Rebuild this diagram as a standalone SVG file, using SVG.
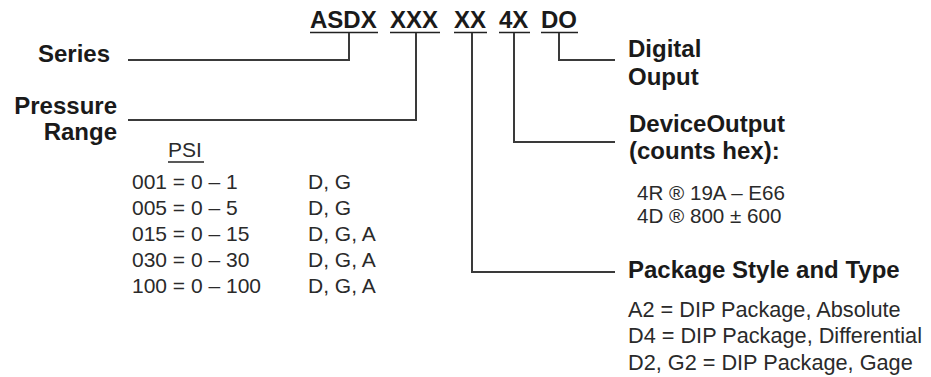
<svg xmlns="http://www.w3.org/2000/svg" width="931" height="377" viewBox="0 0 931 377">
<style>
.b{font-family:"Liberation Sans",Arial,sans-serif;font-weight:bold;font-size:24px;fill:#1a1a1a}
.h{font-family:"Liberation Sans",Arial,sans-serif;font-weight:bold;font-size:24px;fill:#1a1a1a}
.r{font-family:"Liberation Sans",Arial,sans-serif;font-size:21px;fill:#2a2a2a}
.p{font-size:21.7px}
.d{font-size:20.6px}
.u{stroke:#222;stroke-width:1.6;fill:none}
.c{stroke:#3a3a3a;stroke-width:2;fill:none}
</style>
<rect width="931" height="377" fill="#fff"/>
<g id="header">
<text class="h" x="310" y="28">ASDX</text>
<text class="h" x="390" y="28">XXX</text>
<text class="h" x="454" y="28">XX</text>
<text class="h" x="499" y="28">4X</text>
<text class="h" x="541" y="28">DO</text>
<path class="u" d="M310,32.5H378M390,32.5H440M454,32.5H487M499,32.5H530M541,32.5H578"/>
</g>
<g id="connectors">
<path class="c" d="M349,33V60H128"/>
<path class="c" d="M416,33V120H128"/>
<path class="c" d="M472,33V272H615"/>
<path class="c" d="M514,33V142H615"/>
<path class="c" d="M559,33V60H615"/>
</g>
<g id="series">
<text class="b" x="110" y="62" text-anchor="end">Series</text>
</g>
<g id="pressure-range">
<text class="b" x="117" y="114" text-anchor="end">Pressure</text>
<text class="b" x="117" y="140" text-anchor="end">Range</text>
<text class="r" x="168" y="157">PSI</text>
<path class="u" d="M168,162H204" stroke-width="1.3"/>
<text class="r" x="132" y="189">001 = 0 – 1</text>
<text class="r" x="132" y="215">005 = 0 – 5</text>
<text class="r" x="132" y="241">015 = 0 – 15</text>
<text class="r" x="132" y="267">030 = 0 – 30</text>
<text class="r" x="132" y="293">100 = 0 – 100</text>
<text class="r" x="308" y="189">D, G</text>
<text class="r" x="308" y="215">D, G</text>
<text class="r" x="308" y="241">D, G, A</text>
<text class="r" x="308" y="267">D, G, A</text>
<text class="r" x="308" y="293">D, G, A</text>
</g>
<g id="digital-output">
<text class="b" x="628" y="57">Digital</text>
<text class="b" x="628" y="85">Ouput</text>
</g>
<g id="device-output">
<text class="b" x="629" y="132">DeviceOutput</text>
<text class="b" x="629" y="159">(counts hex):</text>
<text class="r d" x="637" y="200">4R ® 19A – E66</text>
<text class="r d" x="637" y="222.5">4D ® 800 ± 600</text>
</g>
<g id="package">
<text class="b" x="628" y="278">Package Style and Type</text>
<text class="r p" x="628" y="317">A2 = DIP Package, Absolute</text>
<text class="r p" x="628" y="343">D4 = DIP Package, Differential</text>
<text class="r p" x="628" y="370">D2, G2 = DIP Package, Gage</text>
</g>
</svg>
